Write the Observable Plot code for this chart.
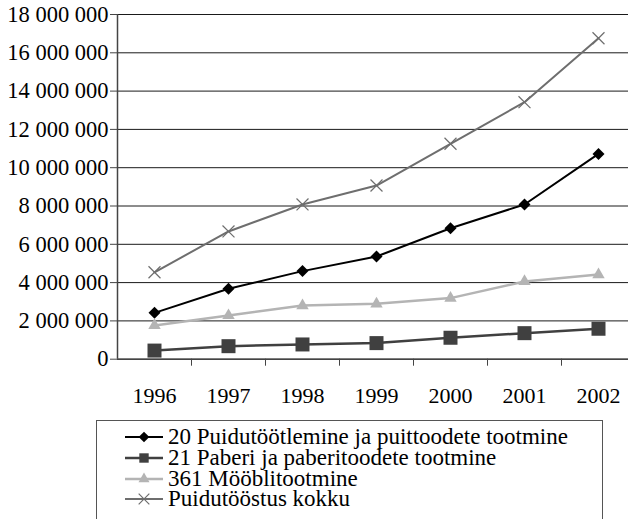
<!DOCTYPE html>
<html>
<head>
<meta charset="utf-8">
<script src="https://cdn.jsdelivr.net/npm/d3@7"></script>
<script src="https://cdn.jsdelivr.net/npm/@observablehq/plot@0.6"></script>
<style>
  html, body { margin: 0; padding: 0; background: #fff; overflow: hidden; }
  body { width: 628px; height: 519px; position: relative; font-family: "Liberation Serif", "Times New Roman", serif; }
  #chart { position: absolute; left: 0; top: 0; }
  #legend { position: absolute; left: 96px; top: 420px; width: 507px; height: 120px; border: 1px solid #555; box-sizing: border-box; padding-top: 6px; background: #fff; }
  .row { display: flex; align-items: center; height: 20.7px; font-size: 23px; line-height: 20px; color: #000; white-space: nowrap; }
  .row svg { margin-left: 28px; margin-right: 5px; flex: none; }
</style>
</head>
<body>
<div id="chart"></div>
<div id="legend"></div>
<script>
const years = ["1996", "1997", "1998", "1999", "2000", "2001", "2002"];
const seriesNames = [
  "20 Puidutöötlemine ja puittoodete tootmine",
  "21 Paberi ja paberitoodete tootmine",
  "361 Mööblitootmine",
  "Puidutööstus kokku"
];
const puit = [2420000, 3680000, 4600000, 5360000, 6840000, 8080000, 10720000];
const paber = [450000, 680000, 770000, 840000, 1120000, 1360000, 1590000];
const mooebel = [1760000, 2280000, 2800000, 2890000, 3190000, 4060000, 4420000];
const kokku = [4540000, 6670000, 8080000, 9070000, 11250000, 13420000, 16760000];
const yTicks = [0, 2000000, 4000000, 6000000, 8000000, 10000000, 12000000, 14000000, 16000000, 18000000];

const values = [puit, paber, mooebel, kokku];
const styles = [
  {color: "#000000", symbol: "diamond2", r: 5.4, width: 2, fill: "#000000", stroke: "none"},
  {color: "#404040", symbol: "square", r: 7.9, width: 2.5, fill: "#404040", stroke: "none"},
  {color: "#b4b4b4", symbol: "triangle", r: 4.6, width: 2.5, fill: "#b4b4b4", stroke: "none"},
  {color: "#6e6e6e", symbol: "times", r: 5.5, width: 2, fill: "none", stroke: "#6e6e6e"}
];

const rows = seriesNames.flatMap((name, s) =>
  years.map((year, i) => ({series: name, s, year, x: i + 0.5, value: values[s][i]}))
);

const fmt = d => d3.format(",")(d).replace(/,/g, " ");
const font = "'Liberation Serif', 'Times New Roman', serif";

const marks = [
  Plot.gridY(yTicks, {stroke: "#1a1a1a", strokeOpacity: 1, strokeWidth: 1}),
  Plot.ruleX([0], {stroke: "#444", strokeWidth: 1.5}),
  Plot.ruleY([0], {stroke: "#444", strokeWidth: 1.5}),
  Plot.axisY(yTicks, {tickSize: 7, tickPadding: 2, tickFormat: fmt, fontSize: 22.5, color: "#000", stroke: "#444", label: null}),
  Plot.axisX(d3.range(1, 7), {tickSize: 7, tickFormat: () => "", stroke: "#444", label: null}),
  Plot.axisX(years.map((_, i) => i + 0.5), {tickSize: 0, tickPadding: 28, tickFormat: d => years[Math.floor(d)], fontSize: 22, color: "#000", label: null})
];
seriesNames.forEach((name, s) => {
  const data = rows.filter(d => d.s === s);
  const st = styles[s];
  marks.push(Plot.line(data, {x: "x", y: "value", stroke: st.color, strokeWidth: st.width}));
  marks.push(Plot.dot(data, {x: "x", y: "value", symbol: () => st.symbol, r: st.r, fill: st.fill, stroke: st.stroke, strokeWidth: 1.2}));
});

const chart = Plot.plot({
  width: 628,
  height: 420,
  marginLeft: 117,
  marginRight: 0,
  marginTop: 14,
  marginBottom: 61.3,
  style: {fontFamily: font, fontSize: "22px", color: "#000", background: "#fff", overflow: "visible"},
  x: {type: "linear", domain: [0, 7], range: [117, 635], label: null},
  y: {domain: [0, 18000000], label: null},
  marks
});
document.getElementById("chart").appendChild(chart);

// Legend
const legend = d3.select("#legend");
seriesNames.forEach((name, s) => {
  const st = styles[s];
  const row = legend.append("div").attr("class", "row");
  const svg = row.append("svg").attr("width", 38).attr("height", 16);
  svg.append("line").attr("x1", 0).attr("x2", 38).attr("y1", 8).attr("y2", 8)
    .attr("stroke", st.color).attr("stroke-width", st.width);
  const symMap = {diamond2: d3.symbolDiamond2, square: d3.symbolSquare, triangle: d3.symbolTriangle, times: d3.symbolTimes};
  const size = Math.PI * st.r * st.r * (s === 1 ? 0.45 : 0.8);
  svg.append("path").attr("transform", "translate(19,8)")
    .attr("d", d3.symbol(symMap[st.symbol], size)())
    .attr("fill", st.fill).attr("stroke", st.stroke).attr("stroke-width", 1.2);
  row.append("span").text(name);
});
</script>
</body>
</html>
